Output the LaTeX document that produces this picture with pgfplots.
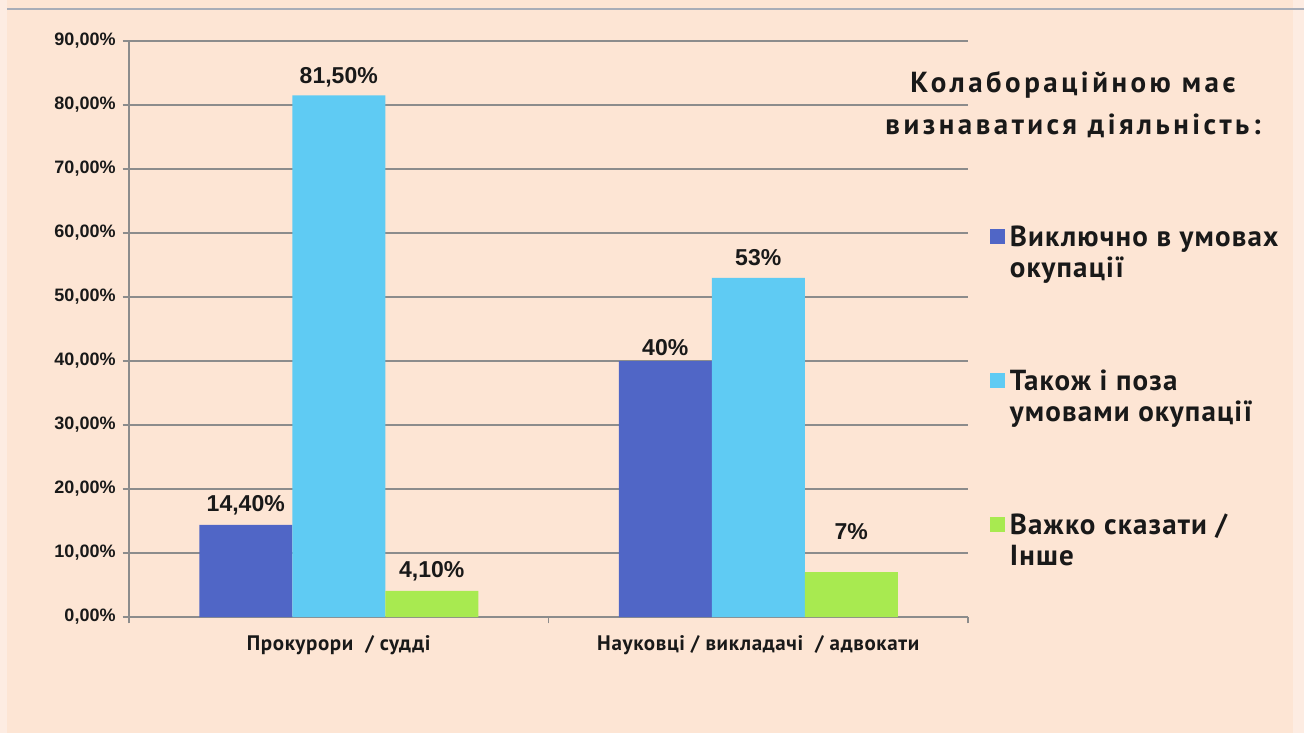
\documentclass[border=0pt]{standalone}
\usepackage{pgfplots}
\pgfplotsset{compat=1.18}
\usepackage{fontspec}
\setmainfont{PT Sans}
\newfontfamily\numfont{Liberation Sans}
\newfontfamily\titlefont[LetterSpace=12]{PT Sans}
\newfontfamily\legfont[LetterSpace=4]{PT Sans}
\newfontfamily\catfont[LetterSpace=3]{PT Sans}
\definecolor{bg}{RGB}{253,229,212}
\definecolor{bgout}{RGB}{253,236,226}
\definecolor{topline}{RGB}{168,173,184}
\definecolor{gridgray}{RGB}{140,140,140}
\definecolor{cBlue}{RGB}{80,102,198}
\definecolor{cCyan}{RGB}{95,203,243}
\definecolor{cGreen}{RGB}{168,234,80}
\begin{document}
\begin{tikzpicture}
\fill[bgout] (0pt,0pt) rectangle (652pt,366.5pt);
\fill[bg] (3.5pt,0pt) rectangle (646.5pt,366.5pt);
\draw[topline, line width=0.8pt] (3.5pt,362pt) -- (652pt,362pt);
\begin{axis}[
  at={(64.5pt,58pt)}, anchor=south west,
  scale only axis, width=419.5pt, height=288pt,
  xmin=-0.5, xmax=1.5, ymin=0, ymax=90,
  ybar=0pt, bar width=46.5pt,
  axis x line*=bottom, axis y line*=left,
  axis line style={draw=gridgray, line width=0.8pt},
  ytick={0,10,...,90},
  yticklabels={{0,00\%},{10,00\%},{20,00\%},{30,00\%},{40,00\%},{50,00\%},{60,00\%},{70,00\%},{80,00\%},{90,00\%}},
  yticklabel style={font=\numfont\bfseries\fontsize{9}{10}\selectfont, text=black!90},
  ymajorgrids, grid style={draw=gridgray, line width=0.8pt},
  tick align=outside, major tick length=3.2pt,
  tick style={draw=gridgray, line width=0.8pt},
  xtick={-0.5,0.5,1.5}, xticklabels={},
  extra x ticks={0,1},
  extra x tick labels={{Прокурори\ \ / судді},{Науковці / викладачі\ \ / адвокати}},
  extra x tick style={major tick length=0pt, grid=none,
     tick label style={font=\catfont\bfseries\fontsize{10.5}{12}\selectfont, text=black!90, yshift=-5.5pt}},
  point meta=explicit symbolic,
  nodes near coords,
  visualization depends on={\thisrow{dy}\as\dy},
  every node near coord/.append style={anchor=base, yshift=\dy pt,
     font=\numfont\bfseries\fontsize{11.5}{12}\selectfont, text=black!90},
  legend image code/.code={\fill[#1] (0pt,1.2pt) rectangle (7.5pt,8.7pt);},
  legend style={draw=none, fill=none, at={(axis description cs:1.0185,0.695)}, anchor=north west,
     font=\legfont\bfseries\fontsize{14.5}{15.5}\selectfont, text=black!90,
     cells={anchor=base west}, row sep=55.5pt,
     /tikz/every odd column/.append style={column sep=0.5pt}},
]
\addplot[fill=cBlue, draw=none] table[x=x, y=y, meta=lab] {
x y lab dy
0 14.4 14,40\% 6.8
1 40 40\% 2.9
};
\addlegendentry{\begin{tabular}[t]{@{}l@{}}Виключно в умовах\\окупації\end{tabular}}
\addplot[fill=cCyan, draw=none] table[x=x, y=y, meta=lab] {
x y lab dy
0 81.5 81,50\% 6.1
1 53 53\% 6.3
};
\addlegendentry{\begin{tabular}[t]{@{}l@{}}Також і поза\\умовами окупації\end{tabular}}
\addplot[fill=cGreen, draw=none] table[x=x, y=y, meta=lab] {
x y lab dy
0 4.1 4,10\% 6.8
1 7 7\% 16.4
};
\addlegendentry{\begin{tabular}[t]{@{}l@{}}Важко сказати /\\Інше\end{tabular}}
\end{axis}
\node[align=center, font=\titlefont\bfseries\fontsize{14.5}{21}\selectfont, text=black!90] at (536.5pt,314pt) {Колабораційною має\\визнаватися діяльність:};
\pgfresetboundingbox
\useasboundingbox (0pt,0pt) rectangle (652pt,366.5pt);
\end{tikzpicture}
\end{document}
